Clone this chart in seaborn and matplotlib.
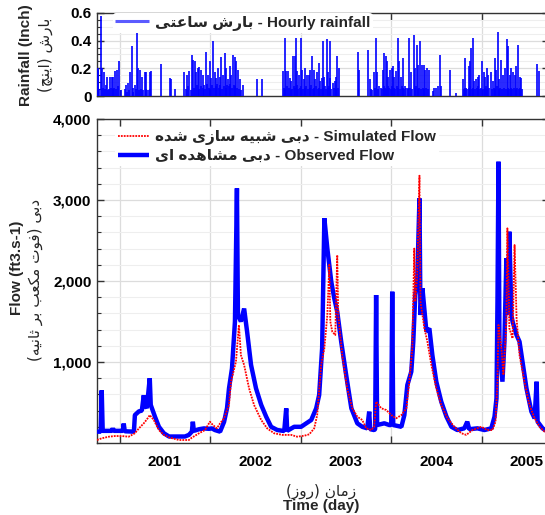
import numpy as np
import pandas as pd
import matplotlib
matplotlib.use("Agg")
import matplotlib.pyplot as plt
import matplotlib.dates as mdates
from matplotlib.ticker import FixedLocator, FixedFormatter, MultipleLocator, NullFormatter
import seaborn as sns

# ---------------- data (time = days since record start) ----------------
START = "2000-10-01"
END_DAY = 1825

rain_day = [3, 6, 16, 22, 30, 35, 39, 53, 60, 66, 73, 80, 87, 97, 114, 118, 127, 134, 140, 147,
            154, 163, 167, 174, 181, 192, 198, 212, 217, 258, 293, 298, 316, 353, 363, 372, 383,
            387, 394, 399, 407, 413, 421, 426, 434, 441, 448, 455, 461, 468, 475, 482, 488, 495,
            502, 509, 515, 522, 529, 535, 542, 549, 556, 562, 569, 579, 588, 646, 666, 751, 758,
            763, 771, 778, 785, 792, 798, 804, 809, 817, 822, 828, 835, 841, 848, 855, 862, 868,
            875, 882, 889, 895, 901, 907, 911, 917, 928, 934, 939, 942, 951, 961, 966, 971, 977,
            1052, 1056, 1095, 1101, 1120, 1126, 1132, 1140, 1153, 1160, 1165, 1171, 1176, 1184,
            1190, 1195, 1200, 1207, 1214, 1221, 1227, 1234, 1244, 1254, 1261, 1268, 1279, 1285,
            1292, 1298, 1306, 1311, 1319, 1326, 1333, 1339, 1356, 1362, 1369, 1376, 1383, 1387,
            1427, 1450, 1477, 1484, 1490, 1500, 1505, 1511, 1517, 1524, 1531, 1537, 1544, 1555,
            1562, 1567, 1573, 1578, 1589, 1598, 1605, 1612, 1618, 1625, 1632, 1639, 1648, 1656,
            1661, 1667, 1672, 1679, 1686, 1692, 1699, 1706, 1713, 1777, 1783]
rain_in = [0.20, 0.19, 0.576, 0.20, 0.17, 0.08, 0.14, 0.14, 0.14, 0.14, 0.18, 0.19, 0.25, 0.04,
           0.05, 0.08, 0.095, 0.17, 0.36, 0.06, 0.08, 0.46, 0.20, 0.19, 0.14, 0.17, 0.17, 0.17,
           0.18, 0.23, 0.13, 0.12, 0.05, 0.17, 0.155, 0.18, 0.30, 0.26, 0.25, 0.17, 0.20, 0.21,
           0.19, 0.155, 0.08, 0.32, 0.155, 0.25, 0.13, 0.40, 0.17, 0.13, 0.20, 0.14, 0.28, 0.155,
           0.31, 0.20, 0.12, 0.215, 0.155, 0.30, 0.28, 0.25, 0.19, 0.12, 0.08, 0.12, 0.12, 0.18,
           0.42, 0.18, 0.18, 0.13, 0.105, 0.29, 0.29, 0.42, 0.18, 0.155, 0.42, 0.19, 0.12, 0.20,
           0.155, 0.155, 0.19, 0.29, 0.19, 0.12, 0.17, 0.24, 0.105, 0.13, 0.40, 0.14, 0.41, 0.17,
           0.13, 0.40, 0.095, 0.105, 0.14, 0.29, 0.20, 0.32, 0.19, 0.335, 0.12, 0.17, 0.42, 0.17,
           0.07, 0.19, 0.31, 0.29, 0.25, 0.14, 0.19, 0.20, 0.215, 0.14, 0.18, 0.42, 0.25, 0.14,
           0.275, 0.07, 0.06, 0.42, 0.17, 0.44, 0.20, 0.37, 0.225, 0.40, 0.225, 0.225, 0.19, 0.20,
           0.19, 0.035, 0.06, 0.06, 0.07, 0.30, 0.07, 0.19, 0.02, 0.12, 0.275, 0.06, 0.215, 0.25,
           0.35, 0.42, 0.105, 0.12, 0.14, 0.155, 0.25, 0.17, 0.14, 0.20, 0.155, 0.17, 0.105, 0.275,
           0.19, 0.46, 0.12, 0.26, 0.155, 0.20, 0.41, 0.36, 0.155, 0.20, 0.17, 0.155, 0.215, 0.37,
           0.14, 0.13, 0.23, 0.18]

rain_low_day = [10, 26, 33, 44, 50, 57, 63, 70, 77, 84, 120, 131, 144, 158, 170, 178, 186, 196,
                205, 214, 358, 368, 378, 390, 402, 410, 418, 430, 438, 445, 452, 458, 465, 472,
                479, 485, 492, 498, 505, 512, 519, 526, 532, 538, 545, 552, 559, 565, 572, 583,
                754, 761, 767, 775, 782, 789, 795, 801, 806, 813, 820, 825, 832, 838, 845, 851,
                858, 865, 871, 878, 885, 891, 897, 904, 914, 921, 925, 931, 937, 945, 955, 963,
                974, 1105, 1112, 1124, 1136, 1145, 1150, 1157, 1163, 1168, 1174, 1180, 1187, 1193,
                1198, 1204, 1210, 1217, 1224, 1230, 1237, 1241, 1248, 1257, 1265, 1272, 1282,
                1289, 1295, 1302, 1309, 1315, 1322, 1329, 1336, 1480, 1487, 1494, 1502, 1508,
                1514, 1520, 1527, 1534, 1540, 1547, 1552, 1558, 1565, 1570, 1576, 1583, 1593,
                1601, 1608, 1615, 1622, 1628, 1635, 1644, 1652, 1659, 1664, 1670, 1676, 1683,
                1690, 1696, 1703, 1709, 1716]
rain_low_in = [0.05, 0.06, 0.05, 0.04, 0.05, 0.06, 0.05, 0.06, 0.05, 0.07, 0.03, 0.04, 0.03, 0.05,
               0.04, 0.05, 0.04, 0.05, 0.04, 0.05, 0.05, 0.07, 0.04, 0.06, 0.08, 0.05, 0.07, 0.06,
               0.05, 0.09, 0.06, 0.05, 0.08, 0.06, 0.07, 0.09, 0.06, 0.08, 0.05, 0.07, 0.06, 0.08,
               0.07, 0.09, 0.06, 0.08, 0.07, 0.06, 0.05, 0.04, 0.06, 0.05, 0.07, 0.06, 0.04, 0.05,
               0.07, 0.06, 0.08, 0.05, 0.06, 0.07, 0.05, 0.06, 0.07, 0.05, 0.06, 0.08, 0.05, 0.06,
               0.07, 0.05, 0.06, 0.05, 0.06, 0.07, 0.05, 0.06, 0.07, 0.05, 0.06, 0.05, 0.06, 0.05,
               0.04, 0.06, 0.05, 0.06, 0.05, 0.07, 0.06, 0.05, 0.07, 0.06, 0.05, 0.07, 0.06, 0.05,
               0.07, 0.06, 0.05, 0.07, 0.06, 0.05, 0.06, 0.05, 0.06, 0.05, 0.06, 0.07, 0.05, 0.06,
               0.05, 0.06, 0.05, 0.06, 0.05, 0.05, 0.06, 0.05, 0.06, 0.07, 0.05, 0.06, 0.05, 0.06,
               0.07, 0.05, 0.06, 0.05, 0.06, 0.07, 0.05, 0.06, 0.05, 0.06, 0.05, 0.07, 0.05, 0.06,
               0.05, 0.06, 0.05, 0.06, 0.05, 0.06, 0.05, 0.06, 0.05, 0.06, 0.05, 0.06, 0.05]

obs_day = [0, 11, 15, 19, 23, 60, 64, 68, 104, 108, 112, 149, 153, 169, 181, 189, 193, 201, 213,
           217, 234, 250, 270, 291, 355, 371, 383, 387, 391, 412, 432, 452, 464, 476, 497, 513,
           525, 533, 545, 557, 565, 569, 581, 594, 606, 622, 642, 663, 683, 703, 728, 756, 764,
           768, 796, 824, 845, 865, 885, 897, 909, 918, 930, 946, 958, 970, 986, 1006, 1027, 1051,
           1071, 1091, 1099, 1103, 1119, 1123, 1127, 1131, 1160, 1180, 1188, 1192, 1196, 1229,
           1241, 1253, 1269, 1277, 1285, 1293, 1302, 1306, 1314, 1330, 1342, 1354, 1370, 1390,
           1411, 1431, 1455, 1483, 1495, 1503, 1536, 1564, 1592, 1605, 1613, 1617, 1621, 1625,
           1637, 1645, 1653, 1657, 1665, 1673, 1678, 1694, 1706, 1718, 1734, 1754, 1767, 1775,
           1779, 1799, 1815, 1825]
obs_flow = [140, 140, 140, 650, 150, 150, 180, 150, 150, 240, 145, 140, 345, 390, 400, 590, 470,
            430, 800, 470, 325, 200, 120, 80, 80, 100, 140, 263, 150, 170, 180, 175, 180, 160, 140,
            260, 430, 675, 920, 1500, 3144, 1580, 1500, 1660, 1375, 963, 675, 470, 325, 200, 160,
            148, 428, 150, 200, 200, 243, 284, 428, 593, 1170, 2774, 2400, 1990, 1786, 1620, 1250,
            840, 428, 243, 200, 181, 387, 170, 160, 170, 1827, 222, 243, 222, 222, 1868, 222, 200,
            345, 716, 880, 1251, 1827, 1990, 3020, 1580, 1910, 1375, 1415, 1086, 757, 510, 325,
            200, 160, 181, 263, 170, 181, 160, 181, 325, 551, 1745, 3473, 1169, 757, 1251, 2280,
            1580, 2609, 1580, 1498, 1333, 1251, 1004, 675, 387, 305, 757, 263, 181, 150, 140]

sim_day = [0, 19, 48, 72, 100, 128, 153, 169, 189, 201, 209, 213, 229, 250, 270, 294, 331, 371,
           383, 412, 436, 456, 468, 484, 497, 513, 533, 541, 561, 573, 581, 594, 614, 634, 663,
           687, 715, 748, 784, 808, 837, 857, 877, 889, 905, 918, 930, 938, 942, 950, 962, 970,
           974, 990, 1010, 1031, 1051, 1071, 1087, 1107, 1119, 1127, 1148, 1168, 1188, 1208,
           1229, 1249, 1261, 1273, 1281, 1285, 1293, 1302, 1306, 1314, 1322, 1334, 1350, 1370,
           1390, 1415, 1443, 1471, 1491, 1516, 1552, 1576, 1597, 1609, 1617, 1621, 1633, 1641,
           1653, 1657, 1665, 1678, 1686, 1694, 1706, 1726, 1746, 1767, 1787, 1807, 1825]
sim_flow = [37, 58, 78, 86, 86, 78, 120, 180, 243, 290, 325, 345, 285, 160, 100, 66, 37, 37, 66,
            120, 160, 263, 222, 181, 243, 305, 470, 757, 1004, 1457, 1086, 963, 675, 470, 284, 181,
            120, 100, 100, 78, 90, 107, 181, 345, 963, 1170, 1580, 2200, 1500, 1375, 1333, 2320,
            1580, 1086, 675, 428, 325, 284, 181, 160, 200, 510, 428, 407, 345, 305, 345, 428, 757,
            1170, 2400, 1745, 2074, 3300, 1745, 1580, 1415, 1251, 963, 675, 470, 305, 200, 120,
            100, 160, 200, 160, 160, 263, 757, 1457, 1169, 840, 1498, 2650, 1415, 1292, 2444, 1539,
            1086, 757, 470, 305, 200, 140, 130]

year_labels = ["2001", "2002", "2003", "2004", "2005"]
flow_ticks = [1000, 2000, 3000, 4000]
flow_tick_labels = ["1,000", "2,000", "3,000", "4,000"]
rain_ticks = [0.0, 0.2, 0.4, 0.6]
rain_tick_labels = ["0", "0.2", "0.4", "0.6"]

# ---------------- Persian shaping (presentation forms, visual order) ----------------
FORMS = {
    'ا': ('\uFE8D', '\uFE8E', None, None),
    'ب': ('\uFE8F', '\uFE90', '\uFE91', '\uFE92'),
    'ت': ('\uFE95', '\uFE96', '\uFE97', '\uFE98'),
    'ث': ('\uFE99', '\uFE9A', '\uFE9B', '\uFE9C'),
    'د': ('\uFEA9', '\uFEAA', None, None),
    'ر': ('\uFEAD', '\uFEAE', None, None),
    'ز': ('\uFEAF', '\uFEB0', None, None),
    'س': ('\uFEB1', '\uFEB2', '\uFEB3', '\uFEB4'),
    'ش': ('\uFEB5', '\uFEB6', '\uFEB7', '\uFEB8'),
    'ع': ('\uFEC9', '\uFECA', '\uFECB', '\uFECC'),
    'ف': ('\uFED1', '\uFED2', '\uFED3', '\uFED4'),
    'م': ('\uFEE1', '\uFEE2', '\uFEE3', '\uFEE4'),
    'ن': ('\uFEE5', '\uFEE6', '\uFEE7', '\uFEE8'),
    'ه': ('\uFEE9', '\uFEEA', '\uFEEB', '\uFEEC'),
    'و': ('\uFEED', '\uFEEE', None, None),
    'ی': ('\uFBFC', '\uFBFD', '\uFBFE', '\uFBFF'),
    'ک': ('\uFB8E', '\uFB8F', '\uFB90', '\uFB91'),
    'چ': ('\uFB7A', '\uFB7B', '\uFB7C', '\uFB7D'),
}


def fa(text):
    out = []
    n = len(text)
    for i, ch in enumerate(text):
        if ch not in FORMS:
            out.append(ch)
            continue
        iso, fin, ini, med = FORMS[ch]
        prev = text[i - 1] if i > 0 else ''
        nxt = text[i + 1] if i < n - 1 else ''
        jp = prev in FORMS and FORMS[prev][2] is not None
        jn = ini is not None and nxt in FORMS
        if jp and jn:
            out.append(med)
        elif jp:
            out.append(fin)
        elif jn:
            out.append(ini)
        else:
            out.append(iso)
    vis = ''.join(reversed(out))
    return vis.translate(str.maketrans({'(': ')', ')': '('}))


# ---------------- figure ----------------
sns.set_theme(style="ticks")
plt.rcParams['font.family'] = ['Liberation Sans', 'DejaVu Sans']
plt.rcParams['axes.unicode_minus'] = False

W_PX, H_PX = 545, 515
fig = plt.figure(figsize=(W_PX / 100, H_PX / 100), dpi=100)
x0, x1 = 97, 549
ax_r = fig.add_axes([x0 / W_PX, 1 - 96 / H_PX, (x1 - x0) / W_PX, (96 - 13) / H_PX])
ax_f = fig.add_axes([x0 / W_PX, 1 - 443 / H_PX, (x1 - x0) / W_PX, (443 - 119) / H_PX])

t0 = pd.Timestamp(START)


def to_dates(days):
    return t0 + pd.to_timedelta(np.asarray(days, dtype=float), unit="D")


xmin, xmax = to_dates([0])[0], to_dates([END_DAY])[0]

# rainfall bars
r_dates = to_dates(list(rain_low_day) + list(rain_day))
r_vals = list(rain_low_in) + list(rain_in)
ax_r.vlines(r_dates, 0, r_vals, color="#0000ff", lw=1.2,
            label=fa("بارش ساعتی") + " - Hourly rainfall", zorder=3)

# flows
obs = pd.DataFrame({"date": to_dates(obs_day), "flow": obs_flow})
sim = pd.DataFrame({"date": to_dates(sim_day), "flow": sim_flow})
sns.lineplot(data=obs, x="date", y="flow", ax=ax_f, color="#0000ff", lw=3.2,
             solid_joinstyle="bevel", solid_capstyle="butt",
             label=fa("دبی مشاهده ای") + " - Observed Flow", zorder=3)
sns.lineplot(data=sim, x="date", y="flow", ax=ax_f, color="#ff0000", lw=1.3,
             linestyle=(0, (1, 0.6)), label=fa("دبی شبیه سازی شده") + " - Simulated Flow",
             zorder=4)

year_starts = [pd.Timestamp(f"{y}-01-01") for y in year_labels]
year_mids = [pd.Timestamp(f"{y}-07-01") for y in year_labels]

for ax in (ax_r, ax_f):
    ax.set_xlim(xmin, xmax)
    ax.xaxis.set_major_locator(FixedLocator(mdates.date2num(year_starts)))
    ax.xaxis.set_major_formatter(NullFormatter())
    ax.xaxis.set_minor_locator(FixedLocator(mdates.date2num(year_mids)))
    ax.xaxis.set_minor_formatter(NullFormatter())
    ax.set_facecolor("white")
    ax.grid(False)
    ax.xaxis.grid(True, which="major", color="#dcdcdc", lw=0.9)
    ax.yaxis.grid(True, which="major", color="#dcdcdc", lw=0.9)
    ax.yaxis.grid(True, which="minor", color="#eeeeee", lw=0.8)
    ax.set_axisbelow(True)
    for s in ax.spines.values():
        s.set_visible(True)
        s.set_color("#333333")
        s.set_linewidth(1.0)
    ax.tick_params(which="both", direction="in", top=True, right=True, colors="#333333",
                   labelcolor="black", labelsize=11, pad=4)
    ax.tick_params(which="major", length=5, width=1)
    ax.tick_params(which="minor", length=3, width=0.8)
    ax.tick_params(axis="x", which="minor", length=0)
    ax.set_xlabel("")
    ax.set_ylabel("")

ax_r.set_ylim(0, 0.6)
ax_r.yaxis.set_major_locator(FixedLocator(rain_ticks))
ax_r.yaxis.set_major_formatter(FixedFormatter(rain_tick_labels))
ax_r.yaxis.set_minor_locator(MultipleLocator(0.05))

ax_f.set_ylim(0, 4000)
ax_f.yaxis.set_major_locator(FixedLocator(flow_ticks))
ax_f.yaxis.set_major_formatter(FixedFormatter(flow_tick_labels))
ax_f.yaxis.set_minor_locator(MultipleLocator(200))
ax_f.xaxis.set_minor_formatter(FixedFormatter(year_labels))
ax_f.tick_params(axis="x", which="minor", pad=9)

for ax in (ax_r, ax_f):
    for lab in ax.get_yticklabels() + ax.get_xticklabels(minor=True):
        lab.set_fontweight("bold")

# legends
leg_r = ax_r.legend(loc="upper left", bbox_to_anchor=(0.035, 0.995), borderaxespad=0,
                    frameon=True, facecolor="white", edgecolor="none", framealpha=1,
                    prop={"weight": "bold", "size": 11}, handlelength=2.2, borderpad=0.15,
                    handletextpad=0.4)
leg_r.legend_handles[0].set_linewidth(2.2)
leg_r.legend_handles[0].set_color("#5b5bff")

h, l = ax_f.get_legend_handles_labels()
order = [1, 0]
ax_f.legend([h[i] for i in order], [l[i] for i in order], loc="upper left",
            bbox_to_anchor=(0.04, 0.975), borderaxespad=0, frameon=True, facecolor="white",
            edgecolor="none", framealpha=1, prop={"weight": "bold", "size": 11},
            handlelength=2.0, borderpad=0.2, labelspacing=0.25, handletextpad=0.4)

# axis titles
fig.text(26 / W_PX, 1 - 55 / H_PX, "Rainfall (Inch)", rotation=90, ha="center", va="center",
         fontsize=11, fontweight="bold")
fig.text(45 / W_PX, 1 - 55 / H_PX, fa("بارش (اینچ)"), rotation=90, ha="center", va="center",
         fontsize=11, family="DejaVu Sans")
fig.text(17 / W_PX, 1 - 268 / H_PX, "Flow (ft3.s-1)", rotation=90, ha="center", va="center",
         fontsize=11, fontweight="bold")
fig.text(35 / W_PX, 1 - 280 / H_PX, fa("دبی (فوت مکعب بر ثانیه)"), rotation=90, ha="center",
         va="center", fontsize=11, family="DejaVu Sans")
fig.text(321 / W_PX, 1 - 491 / H_PX, fa("زمان (روز)"), ha="center", va="center",
         fontsize=11, family="DejaVu Sans")
fig.text(321 / W_PX, 2 / H_PX, "Time (day)", ha="center", va="bottom",
         fontsize=11, fontweight="bold")

fig.savefig("out.png", dpi=100)
